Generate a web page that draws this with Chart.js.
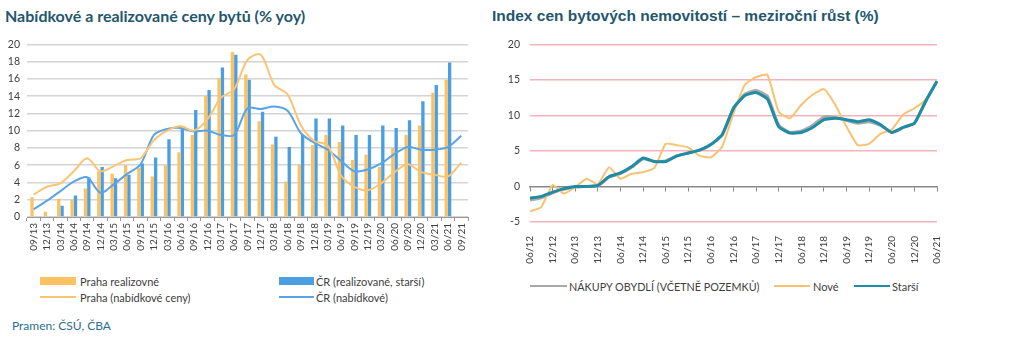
<!DOCTYPE html>
<html>
<head>
<meta charset="utf-8">
<script src="https://cdn.jsdelivr.net/npm/chart.js@4.4.0/dist/chart.umd.min.js"></script>
<style>
  body { margin: 0; background: #fff; width: 1024px; height: 340px; overflow: hidden; position: relative; font-family: Lato, sans-serif; }
  .title { position: absolute; top: 7px; font-weight: bold; color: #24566e; white-space: nowrap; }
  canvas { position: absolute; }
  .txt { position: absolute; font-size: 11px; line-height: 13px; color: #404040; white-space: nowrap; }
  .sw { position: absolute; }
</style>
</head>
<body>
<div class="title" style="left:5px;top:6px;font-family:Lato,sans-serif;font-size:16px">Nabídkové a realizované ceny bytů (% yoy)</div>
<div class="title" style="left:492px;font-family:'Liberation Sans',Arial,sans-serif;font-size:15.5px">Index cen bytových nemovitostí – meziroční růst (%)</div>

<canvas id="left" width="480" height="235" style="left:0;top:31px"></canvas>
<canvas id="right" width="470" height="238" style="left:490px;top:28px"></canvas>

<!-- left legend -->
<div class="sw" style="left:40px;top:277px;width:36px;height:8px;background:#fcc262"></div>
<div class="txt" style="left:80px;top:275px">Praha realizovné</div>
<div class="sw" style="left:279px;top:277px;width:35px;height:8px;background:#4b9fe1"></div>
<div class="txt" style="left:316px;top:275px">ČR (realizované, starší)</div>
<div class="sw" style="left:40px;top:296px;width:36px;height:2px;background:#f9c575"></div>
<div class="txt" style="left:80px;top:291px">Praha (nabídkové ceny)</div>
<div class="sw" style="left:279px;top:296px;width:35px;height:2px;background:#5aa4e6"></div>
<div class="txt" style="left:316px;top:291px">ČR (nabídkové)</div>

<!-- right legend -->
<div class="sw" style="left:530px;top:285px;width:37px;height:2px;background:#a9a9a9"></div>
<div class="txt" style="left:569px;top:280px;font-size:10.8px">NÁKUPY OBYDLÍ (VČETNĚ POZEMKŮ)</div>
<div class="sw" style="left:774px;top:285px;width:36px;height:2px;background:#f8c272"></div>
<div class="txt" style="left:813px;top:280px">Nové</div>
<div class="sw" style="left:854px;top:285px;width:36px;height:2px;background:#1f8ca6"></div>
<div class="txt" style="left:892px;top:280px">Starší</div>

<div class="txt" style="left:12px;top:319px;font-size:12px;line-height:14px;color:#2c6e8e">Pramen: ČSÚ, ČBA</div>

<script>
// left chart: quarters 09/13 .. 09/21
const leftCats = ['09/13','12/13','03/14','06/14','09/14','12/14','03/15','06/15','09/15','12/15',
  '03/16','06/16','09/16','12/16','03/17','06/17','09/17','12/17','03/18','06/18','09/18','12/18',
  '03/19','06/19','09/19','12/19','03/20','06/20','09/20','12/20','03/21','06/21','09/21'];
const prahaRealizovane = [2.3, 0.6, 2.1, 2.0, 3.3, 5.3, 5.0, 6.0, 5.7, 4.7,
  6.0, 7.5, 9.5, 14.0, 16.1, 19.1, 16.5, 11.1, 8.4, 4.1, 6.1, 8.3,
  9.5, 8.7, 6.6, 7.2, 5.8, 8.0, 9.5, 10.6, 14.4, 15.9, null];
const crRealizovane = [null, null, 1.3, 2.5, 4.6, 5.8, 4.5, 4.9, 6.2, 6.9,
  9.0, 10.3, 12.4, 14.7, 17.3, 18.8, 15.9, 12.2, 9.3, 8.1, 9.5, 11.4,
  11.4, 10.6, 9.5, 9.5, 10.6, 10.3, 11.2, 13.4, 15.3, 17.9, null];
const prahaNabidkove = [2.6, 3.5, 3.9, 5.3, 6.8, 5.3, 5.9, 6.6, 6.8, 8.9,
  10.0, 10.5, 10.0, 11.3, 13.8, 14.8, 18.2, 18.8, 15.3, 14.2, 10.6, 8.8,
  8.3, 4.8, 3.5, 3.1, 3.9, 5.2, 6.1, 5.2, 4.9, 4.7, 6.3];
const crNabidkove = [0.9, 1.9, 3.0, 4.1, 4.6, 2.8, 3.8, 5.0, 6.1, 9.5,
  10.2, 10.3, 9.9, 10.0, 9.5, 9.5, 12.6, 12.5, 12.8, 12.3, 9.7, 8.6,
  7.8, 6.5, 5.3, 5.5, 6.2, 7.3, 8.1, 7.8, 7.8, 8.1, 9.4];

// right chart: quarters 06/12 .. 06/21
const rightCats = ['06/12','09/12','12/12','03/13','06/13','09/13','12/13','03/14','06/14','09/14',
  '12/14','03/15','06/15','09/15','12/15','03/16','06/16','09/16','12/16','03/17','06/17','09/17',
  '12/17','03/18','06/18','09/18','12/18','03/19','06/19','09/19','12/19','03/20','06/20','09/20',
  '12/20','03/21','06/21'];
const nakupyObydli = [-1.9, -1.6, -0.9, -0.4, -0.1, 0.0, 0.1, 1.3, 1.8, 2.7,
  3.9, 3.5, 3.6, 4.3, 4.7, 5.1, 5.9, 7.2, 11.0, 13.0, 13.5, 12.7,
  8.6, 7.6, 7.8, 8.6, 9.8, 9.7, 9.3, 8.9, 9.1, 8.6, 7.6, 8.3,
  8.9, 12.0, 14.8];
const nove = [-3.5, -2.9, 0.2, -1.0, -0.1, 1.1, 0.3, 2.7, 1.1, 1.8,
  2.0, 2.6, 6.0, 5.8, 5.5, 4.3, 4.1, 5.6, 10.3, 14.3, 15.4, 15.7,
  10.5, 9.6, 11.5, 12.9, 13.7, 11.5, 8.4, 5.8, 6.0, 7.4, 8.0, 10.1,
  11.0, 12.2, 14.8];
const starsi = [-1.65, -1.4, -0.8, -0.3, 0.0, 0.0, 0.15, 1.4, 1.9, 2.8,
  4.0, 3.5, 3.5, 4.3, 4.7, 5.1, 5.9, 7.3, 11.0, 12.8, 13.2, 12.3,
  8.4, 7.5, 7.6, 8.3, 9.4, 9.6, 9.4, 9.1, 9.4, 8.7, 7.6, 8.3,
  8.9, 12.0, 14.8];

Chart.defaults.font.family = 'Lato, sans-serif';
Chart.defaults.color = '#404040';

new Chart(document.getElementById('left'), {
  type: 'bar',
  data: {
    labels: leftCats,
    datasets: [{
      type: 'line',
      label: 'Praha (nabídkové ceny)',
      data: prahaNabidkove,
      borderColor: '#f9c575',
      borderWidth: 2,
      pointRadius: 0,
      tension: 0.3,
      order: 0
    }, {
      type: 'line',
      label: 'ČR (nabídkové)',
      data: crNabidkove,
      borderColor: '#5aa4e6',
      borderWidth: 2,
      pointRadius: 0,
      tension: 0.3,
      order: 0
    }, {
      label: 'Praha realizovné',
      data: prahaRealizovane,
      backgroundColor: '#fcc262',
      barPercentage: 1,
      categoryPercentage: 0.5,
      order: 1
    }, {
      label: 'ČR (realizované, starší)',
      data: crRealizovane,
      backgroundColor: '#4b9fe1',
      barPercentage: 1,
      categoryPercentage: 0.5,
      order: 1
    }]
  },
  options: {
    responsive: false,
    animation: false,
    layout: { padding: { top: 0, right: 12, left: 0, bottom: 0 } },
    plugins: { legend: { display: false }, tooltip: { enabled: false } },
    scales: {
      x: {
        grid: { drawOnChartArea: false, tickLength: 4, color: '#999' },
        border: { color: '#999' },
        ticks: { autoSkip: false, maxRotation: 90, minRotation: 90, font: { size: 10 }, padding: 2 },
        afterFit(s) { s.height = 49; }
      },
      y: {
        min: 0,
        max: 20,
        ticks: { stepSize: 2, font: { size: 10.5 }, padding: 7 },
        grid: { color: '#d4d4d4', lineWidth: 1.5, drawTicks: false },
        border: { display: false },
        afterFit(s) { s.width = 27; }
      }
    }
  }
});

new Chart(document.getElementById('right'), {
  type: 'line',
  data: {
    labels: rightCats,
    datasets: [{
      label: 'Starší',
      data: starsi,
      borderColor: '#1f8ca6',
      borderWidth: 3,
      order: 0
    }, {
      label: 'Nové',
      data: nove,
      borderColor: '#f8c272',
      borderWidth: 2,
      order: 1
    }, {
      label: 'NÁKUPY OBYDLÍ (VČETNĚ POZEMKŮ)',
      data: nakupyObydli,
      borderColor: '#a9a9a9',
      borderWidth: 3,
      order: 2
    }]
  },
  options: {
    responsive: false,
    animation: false,
    layout: { padding: { top: 0, right: 23, left: 0, bottom: 0 } },
    elements: { point: { radius: 0 }, line: { tension: 0.15 } },
    plugins: { legend: { display: false }, tooltip: { enabled: false } },
    scales: {
      x: {
        grid: { display: false },
        border: { display: false },
        ticks: {
          autoSkip: false, maxRotation: 90, minRotation: 90, font: { size: 10 }, padding: 6,
          callback(v, i) { return i % 2 === 0 ? this.getLabelForValue(v) : ''; }
        },
        afterFit(s) { s.height = 44; }
      },
      x0: {
        axis: 'x',
        type: 'category',
        labels: rightCats,
        position: { y: 0 },
        grid: {
          drawOnChartArea: false,
          tickLength: 4,
          color: (c) => c.index % 2 === 0 ? '#888' : 'rgba(0,0,0,0)'
        },
        border: { color: '#888', width: 1.5 },
        ticks: { display: false }
      },
      y: {
        min: -5,
        max: 20,
        ticks: { stepSize: 5, font: { size: 10.5 }, padding: 10 },
        grid: {
          color: (c) => c.tick && c.tick.value === 0 ? 'rgba(0,0,0,0)' : '#f3b3bb',
          lineWidth: 1.5,
          drawTicks: false
        },
        border: { display: false },
        afterFit(s) { s.width = 40; }
      }
    }
  }
});
</script>
</body>
</html>
